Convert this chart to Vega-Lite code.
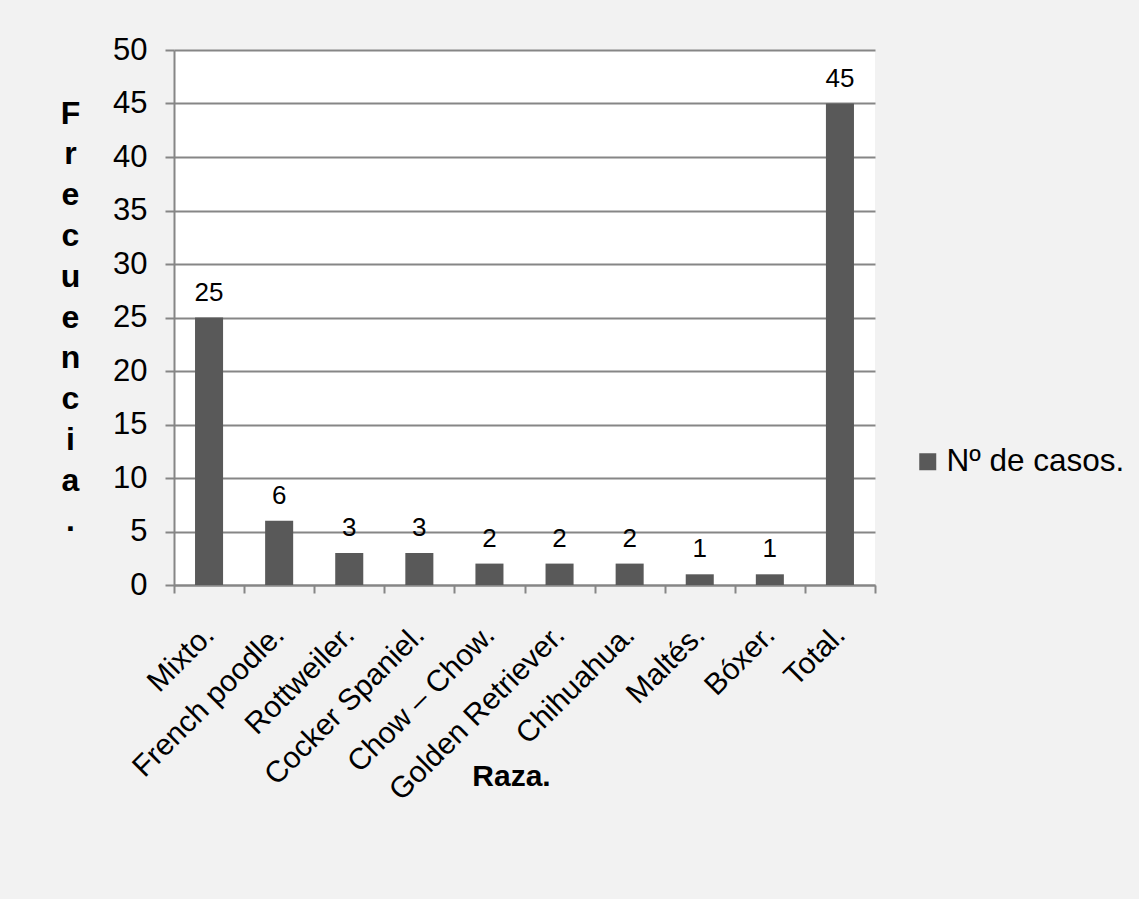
{
  "$schema": "https://vega.github.io/schema/vega-lite/v6.json",
  "width": 701,
  "height": 535,
  "autosize": "none",
  "padding": {"left": 174, "top": 50, "right": 264, "bottom": 314},
  "background": "#f2f2f2",
  "config": {
    "font": "Liberation Sans",
    "view": {"fill": "#ffffff", "stroke": null}
  },
  "data": {
    "values": [
      {"raza": "Mixto.", "casos": 25, "serie": "Nº de casos."},
      {"raza": "French poodle.", "casos": 6, "serie": "Nº de casos."},
      {"raza": "Rottweiler.", "casos": 3, "serie": "Nº de casos."},
      {"raza": "Cocker Spaniel.", "casos": 3, "serie": "Nº de casos."},
      {"raza": "Chow – Chow.", "casos": 2, "serie": "Nº de casos."},
      {"raza": "Golden Retriever.", "casos": 2, "serie": "Nº de casos."},
      {"raza": "Chihuahua.", "casos": 2, "serie": "Nº de casos."},
      {"raza": "Maltés.", "casos": 1, "serie": "Nº de casos."},
      {"raza": "Bóxer.", "casos": 1, "serie": "Nº de casos."},
      {"raza": "Total.", "casos": 45, "serie": "Nº de casos."}
    ]
  },
  "encoding": {
    "x": {
      "field": "raza",
      "type": "nominal",
      "sort": null,
      "scale": {"paddingInner": 0, "paddingOuter": 0},
      "axis": {
        "title": "Raza.",
        "titleFont": "Liberation Sans",
        "titleFontSize": 30,
        "titleFontWeight": "bold",
        "titleColor": "#000000",
        "titleX": 337,
        "titleY": 200,
        "titleAlign": "center",
        "titleBaseline": "alphabetic",
        "labelAngle": -45,
        "labelAlign": "right",
        "labelBaseline": "middle",
        "labelFontSize": 30,
        "labelColor": "#000000",
        "labelPadding": 37,
        "labelLimit": 400,
        "labelOverlap": false,
        "tickBand": "extent",
        "tickSize": 8,
        "tickWidth": 2,
        "tickColor": "#868686",
        "domainColor": "#868686",
        "domainWidth": 2,
        "grid": false
      }
    },
    "y": {
      "field": "casos",
      "type": "quantitative",
      "scale": {"domain": [0, 50], "nice": false},
      "axis": {
        "values": [0, 5, 10, 15, 20, 25, 30, 35, 40, 45, 50],
        "title": ["F", "r", "e", "c", "u", "e", "n", "c", "i", "a", "."],
        "titleAngle": 0,
        "titleFontSize": 32,
        "titleFontWeight": "bold",
        "titleColor": "#000000",
        "titleLineHeight": 40.8,
        "titleAlign": "center",
        "titleBaseline": "alphabetic",
        "titleX": -104,
        "titleY": 73,
        "labelFontSize": 31,
        "labelColor": "#000000",
        "labelPadding": 18,
        "tickSize": 9,
        "tickWidth": 2,
        "tickColor": "#868686",
        "domainColor": "#868686",
        "domainWidth": 2,
        "grid": true,
        "gridColor": "#868686",
        "gridWidth": 2
      }
    }
  },
  "layer": [
    {
      "mark": {"type": "bar", "width": {"band": 0.4}},
      "encoding": {
        "color": {
          "field": "serie",
          "type": "nominal",
          "scale": {"range": ["#595959"]},
          "legend": {
            "title": null,
            "orient": "none",
            "legendX": 738,
            "legendY": 396,
            "padding": 0,
            "symbolType": "square",
            "symbolSize": 289,
            "symbolStrokeWidth": 0,
            "labelFontSize": 31.5,
            "labelColor": "#000000",
            "labelOffset": 3,
            "labelLimit": 400
          }
        }
      }
    },
    {
      "mark": {"type": "text", "baseline": "alphabetic", "dy": -17, "fontSize": 26, "color": "#000000"},
      "encoding": {"text": {"field": "casos", "type": "quantitative"}}
    }
  ]
}
